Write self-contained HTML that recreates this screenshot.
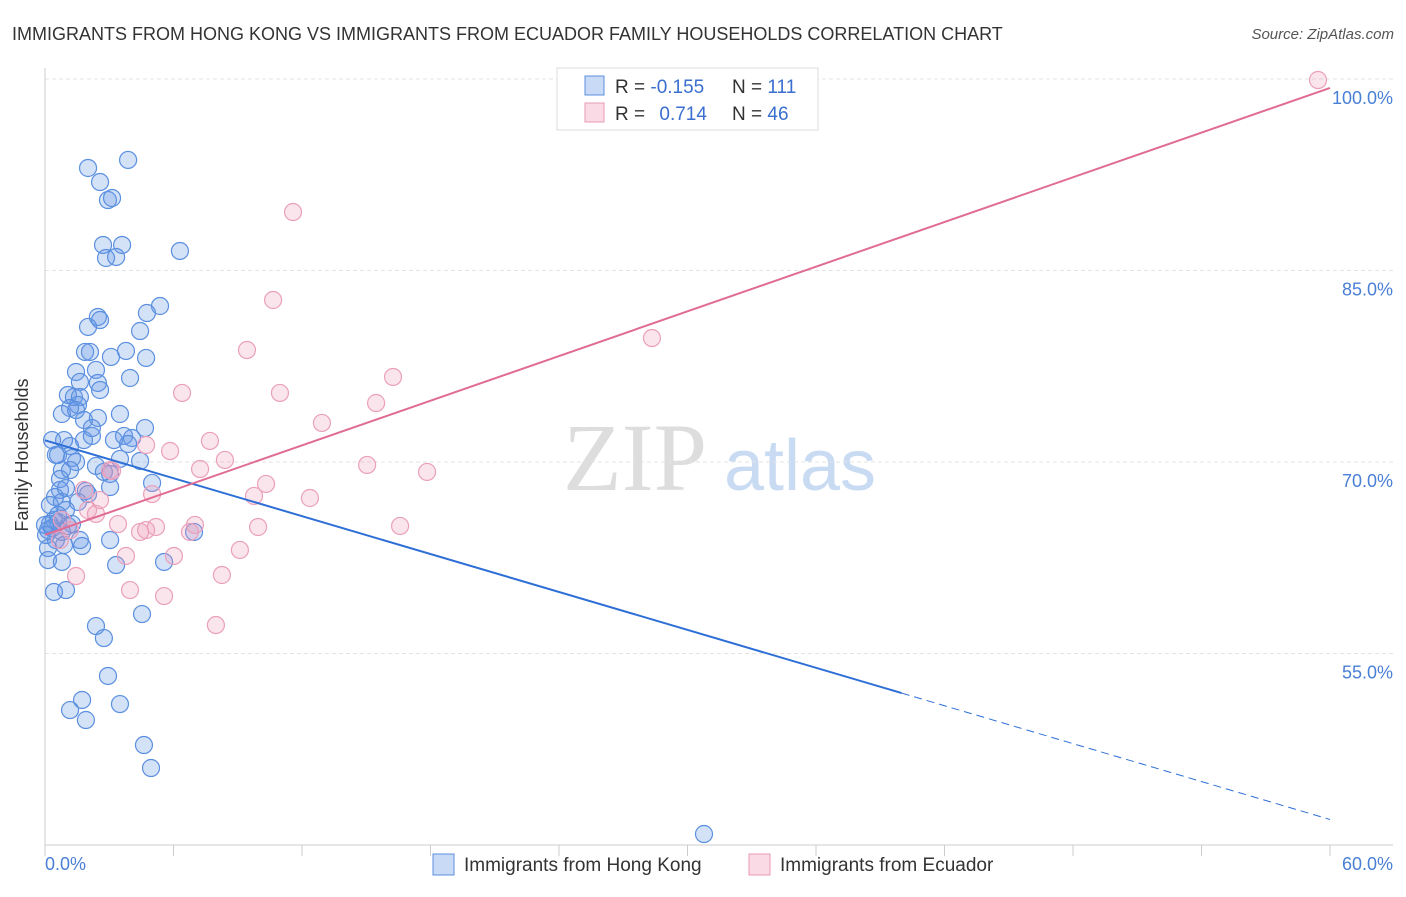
<!DOCTYPE html>
<html><head><meta charset="utf-8"><style>
body{margin:0;background:#fff;font-family:"Liberation Sans",sans-serif;}
svg text{font-family:"Liberation Sans",sans-serif;}
</style></head><body>
<svg id="chart" width="1406" height="892">
<text x="12" y="40" font-size="18" fill="#333">IMMIGRANTS FROM HONG KONG VS IMMIGRANTS FROM ECUADOR FAMILY HOUSEHOLDS CORRELATION CHART</text>
<text x="1394" y="39" font-size="15" fill="#555" text-anchor="end" font-style="italic">Source: ZipAtlas.com</text>
<g>
<text x="635" y="490" font-size="96" fill="#ddd" font-family="Liberation Serif" text-anchor="middle" style="font-family:'Liberation Serif',serif">ZIP</text>
<text x="800" y="490" font-size="72" fill="#c9dbf3" text-anchor="middle">atlas</text>
</g>
<g id="grid"></g>
<g id="axes"></g>
<g id="points"></g>
<g id="lines"></g>
<text x="28" y="455" font-size="18" fill="#333" text-anchor="middle" transform="rotate(-90 28 455)">Family Households</text>
<g>
<rect x="557" y="68" width="261" height="62" fill="#fff" stroke="#ddd"/>
<rect x="585" y="76" width="19" height="19" fill="rgba(100,150,230,0.35)" stroke="#5b8fdf"/>
<rect x="585" y="103" width="19" height="19" fill="rgba(240,150,180,0.35)" stroke="#e89ab5"/>
<text x="615" y="93" font-size="19" fill="#333">R = <tspan fill="#3a6fd0">-0.155</tspan></text>
<text x="732" y="93" font-size="19" fill="#333">N = <tspan fill="#3a6fd0">111</tspan></text>
<text x="615" y="120" font-size="19" fill="#333">R = <tspan fill="#3a6fd0" dx="9">0.714</tspan></text>
<text x="732" y="120" font-size="19" fill="#333">N = <tspan fill="#3a6fd0">46</tspan></text>
</g>
<g>
<rect x="433" y="854" width="21" height="21" fill="rgba(100,150,230,0.35)" stroke="#5b8fdf"/>
<text x="464" y="871" font-size="19" fill="#333">Immigrants from Hong Kong</text>
<rect x="749" y="854" width="21" height="21" fill="rgba(240,150,180,0.35)" stroke="#e89ab5"/>
<text x="780" y="871" font-size="19" fill="#333">Immigrants from Ecuador</text>
</g>
</svg>
<script>
const yTicks=[55,70,85,100];
const yTickLabels=["55.0%","70.0%","85.0%","100.0%"];
const xTickLabels=["0.0%","60.0%"];
const hkX=[3.88,2.01,2.57,2.94,3.13,2.71,3.60,2.85,3.32,6.30,5.37,4.76,2.47,2.57,2.01,4.44,1.87,2.10,3.08,3.78,4.72,1.45,2.38,1.63,2.47,3.97,1.07,2.57,1.35,1.63,1.54,1.17,1.45,0.79,3.50,1.82,2.47,2.19,4.67,0.89,1.17,1.82,2.19,3.22,3.69,4.06,3.88,0.61,1.26,1.45,3.50,4.44,2.38,0.79,2.75,3.04,0.70,5.00,3.04,0.70,1.91,2.01,0.47,1.54,0.79,0.98,0.42,0.61,0.23,1.07,1.26,0.14,0.79,1.63,3.04,0.51,0.89,1.73,0.14,6.96,3.32,0.14,0.79,5.56,0.42,0.98,4.53,2.38,2.75,2.94,1.73,1.17,3.50,1.91,4.62,4.95,30.77,0.33,0.51,0.05,0.33,0.61,0,0.23,0.98,1.17];
const hkY=[93.66,93.03,91.93,90.52,90.68,87.0,87.0,85.98,86.06,86.53,82.22,81.67,81.36,81.12,80.58,80.26,78.62,78.62,78.23,78.70,78.15,77.05,77.21,76.27,76.19,76.58,75.25,75.64,75.09,75.09,74.47,74.23,74.07,73.76,73.76,73.29,73.45,72.66,72.66,71.72,71.25,71.72,72.04,71.72,72.04,71.88,71.41,70.55,70.31,70.0,70.24,70.08,69.69,69.37,69.22,69.06,68.67,68.36,68.04,67.81,67.73,67.49,67.26,66.87,66.87,66.24,65.46,65.30,65.15,64.99,65.15,64.67,64.52,63.89,63.89,63.89,63.5,63.42,63.26,64.52,61.93,62.32,62.17,62.17,59.82,59.97,58.09,57.15,56.21,53.24,51.36,50.57,51.04,49.79,47.83,46.03,40.86,71.72,70.55,64.28,64.83,65.85,65.07,66.63,67.96,69.37];
const ecX=[59.44,11.58,10.65,28.34,9.43,16.25,6.40,10.97,15.46,12.93,4.72,7.70,5.84,15.04,17.84,8.40,7.24,3.13,5.00,9.76,10.32,12.37,2.57,1.82,2.38,3.41,5.18,7.00,6.77,9.95,16.58,4.44,1.17,0.70,9.10,3.78,6.02,8.26,1.45,3.97,5.56,7.98,2.01,0.79,3.04,4.72];
const ecY=[99.92,89.58,82.69,79.71,78.77,76.66,75.41,75.41,74.62,73.06,71.33,71.65,70.86,69.77,69.22,70.16,69.45,69.30,67.49,67.34,68.28,67.18,67.02,67.81,65.93,65.14,64.91,65.07,64.52,64.91,64.99,64.52,64.67,63.89,63.11,62.64,62.64,61.15,61.07,59.97,59.50,57.23,66.24,65.46,69.37,64.67];
const hkTrend=[71.7,42.0]; const ecTrend=[64.3,99.3]; const hkSolidEnd=40;
const NS="http://www.w3.org/2000/svg";
const X0=45,X1=1330,YB=845;
const sx=v=>X0+(v/60)*(X1-X0);
const sy=v=>YB-(v-40)*(191.5/15);
function mk(tag,attrs,parent){const e=document.createElementNS(NS,tag);for(const k in attrs)e.setAttribute(k,attrs[k]);parent.appendChild(e);return e;}
const grid=document.getElementById('grid'),axes=document.getElementById('axes'),pts=document.getElementById('points'),lines=document.getElementById('lines');
yTicks.forEach((t,i)=>{
 const l=mk('line',{x1:X0,x2:1393,y1:sy(t),y2:sy(t),stroke:'#e3e3e3','stroke-dasharray':'4 3'},grid);
 
 
 const tx=mk('text',{x:1393,y:sy(t)+25,'font-size':18,fill:'#4a7fd6','text-anchor':'end'},axes);
 tx.textContent=yTickLabels[i];
 
 
});
const ya=mk('line',{x1:X0,x2:X0,y1:68,y2:YB,stroke:'#ccc'},axes);


const xa=mk('line',{x1:X0,x2:1393,y1:YB,y2:YB,stroke:'#ccc'},axes);


for(let i=0;i<=10;i++){
 const t=mk('line',{x1:sx(i*6),x2:sx(i*6),y1:YB,y2:YB+11,stroke:'#ccc'},axes);
 
 
}
const xl0=mk('text',{x:45,y:870,'font-size':18,fill:'#4a7fd6'},axes);xl0.textContent=xTickLabels[0];


const xl1=mk('text',{x:1393,y:870,'font-size':18,fill:'#4a7fd6','text-anchor':'end'},axes);xl1.textContent=xTickLabels[1];


hkX.forEach((v,i)=>{const c=mk('circle',{cx:sx(v),cy:sy(hkY[i]),r:8.5,fill:'rgba(100,150,230,0.28)',stroke:'#5b8fdf','stroke-width':1.2},pts);
 
 });
ecX.forEach((v,i)=>{const c=mk('circle',{cx:sx(v),cy:sy(ecY[i]),r:8.5,fill:'rgba(240,150,180,0.25)',stroke:'#eaa0bb','stroke-width':1.2},pts);
 
 });
const hkAt=x=>hkTrend[0]+(hkTrend[1]-hkTrend[0])*x/60;
const l1=mk('line',{x1:sx(0),y1:sy(hkAt(0)),x2:sx(hkSolidEnd),y2:sy(hkAt(hkSolidEnd)),stroke:'#2e6fd6','stroke-width':2},lines);


const l2=mk('line',{x1:sx(hkSolidEnd),y1:sy(hkAt(hkSolidEnd)),x2:sx(60),y2:sy(hkAt(60)),stroke:'#2e6fd6','stroke-width':1,'stroke-dasharray':'8 5'},lines);


const l3=mk('line',{x1:sx(0),y1:sy(ecTrend[0]),x2:sx(60),y2:sy(ecTrend[1]),stroke:'#e06c96','stroke-width':2},lines);


</script>
</body></html>
